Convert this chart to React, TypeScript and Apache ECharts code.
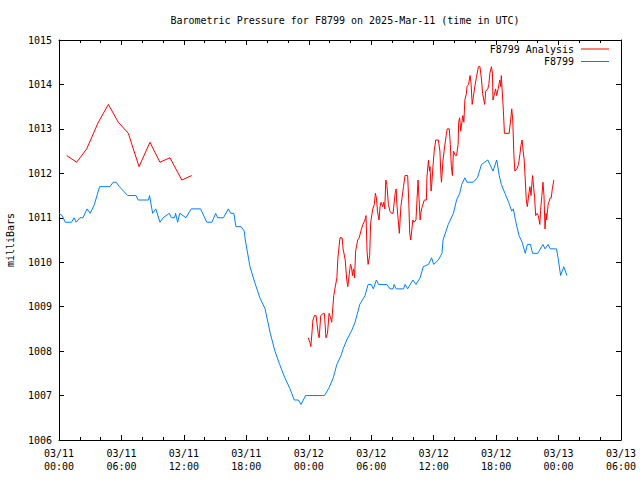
import React, { useEffect, useRef } from "react";
import * as echarts from "echarts";

const titleText = "Barometric Pressure for F8799 on 2025-Mar-11 (time in UTC)";
const yAxisName = "milliBars";
const seriesNames = ["F8799 Analysis", "F8799"];

// hours since 2025-03-11 00:00 UTC
const analysisHours: (number)[] = [
  0.74, 1.7, 2.66, 3.78, 4.74, 5.7, 6.66, 7.69, 8.74, 9.7, 10.66, 11.8, 12.75,
  18,
  23.95, 24.1, 24.2, 24.25, 24.4, 24.55, 24.7, 24.9, 25.0, 25.15, 25.4, 25.5, 25.65, 25.8, 25.95, 26.1, 26.2,
  26.4, 26.55, 26.7, 26.8, 27.0, 27.2, 27.3, 27.5, 27.65, 27.75, 27.9, 28.0, 28.1, 28.2, 28.3, 28.4,
  28.5, 28.7, 28.85, 29.0, 29.2, 29.4, 29.5, 29.6, 29.7, 29.85, 29.95, 30.15, 30.3, 30.4, 30.5, 30.6,
  30.75, 30.85, 30.95, 31.1, 31.2, 31.3, 31.4, 31.5, 31.65, 31.8, 31.95, 32.1, 32.3, 32.4, 32.45, 32.7,
  32.85, 33.1, 33.25, 33.5, 33.6, 33.7, 33.8, 34.0, 34.1, 34.3, 34.4, 34.5, 34.7, 34.8, 34.9, 35.1,
  35.3, 35.35, 35.5, 35.6, 35.65, 35.75, 35.8, 35.9, 36.05, 36.2, 36.45, 36.6, 36.7, 36.75, 36.9, 37.0,
  37.2, 37.3, 37.5, 37.6, 37.7, 37.8, 37.9, 38.1, 38.2, 38.35, 38.4, 38.5, 38.6, 38.8, 38.9, 39.0,
  39.15, 39.2, 39.35, 39.5, 39.6, 39.7, 39.8, 39.95, 40.1, 40.3, 40.45, 40.6, 40.7, 40.9, 41.0, 41.2,
  41.3, 41.4, 41.55, 41.65, 41.7, 41.85, 41.95, 42.05, 42.2, 42.35, 42.45, 42.5, 42.7, 42.8, 43.25, 43.4,
  43.5, 43.6, 43.7, 43.8, 44.0, 44.15, 44.3, 44.4, 44.5, 44.6, 44.7, 44.8, 44.9, 45.0, 45.15, 45.25,
  45.35, 45.5, 45.7, 45.8, 45.95, 46.05, 46.2, 46.3, 46.4, 46.5, 46.6, 46.7, 46.8, 46.85, 47.0, 47.2,
  47.3, 47.4, 47.55,
];
const analysisValues: (number | null)[] = [
  1012.4, 1012.25, 1012.55, 1013.15, 1013.55, 1013.15, 1012.9, 1012.15, 1012.7, 1012.25, 1012.35, 1011.85, 1011.95,
  null,
  1008.3, 1008.2, 1008.1, 1008.25, 1008.7, 1008.8, 1008.8, 1008.4, 1008.3, 1008.8, 1008.85, 1008.85, 1008.3, 1008.4, 1008.85, 1008.75, 1008.65,
  1009.25, 1009.45, 1009.65, 1010.1, 1010.55, 1010.55, 1010.3, 1010.05, 1009.6, 1009.45, 1009.75, 1009.95, 1009.9, 1009.7, 1009.85, 1009.65,
  1010.25, 1010.5, 1010.55, 1010.7, 1010.85, 1010.95, 1011.05, 1010.25, 1009.95, 1010.15, 1010.9, 1011.2, 1011.3, 1011.55, 1011.45, 1011.15,
  1010.95, 1011.25, 1011.35, 1011.25, 1011.35, 1011.2, 1011.85, 1011.75, 1011.3, 1011.15, 1011.1, 1011.1, 1011.55, 1011.65, 1011.35, 1010.65,
  1011.25, 1011.7, 1011.95, 1011.95, 1011.4, 1010.65, 1010.5, 1010.95, 1010.9, 1010.95, 1011.4, 1011.85, 1010.95, 1011.15, 1011.25, 1011.4,
  1011.4, 1011.9, 1012.3, 1012.05, 1012.15, 1011.6, 1011.7, 1012.05, 1012.5, 1012.75, 1012.75, 1012.5, 1011.95, 1011.8, 1012.3, 1012.5,
  1012.85, 1013.0, 1013.0, 1012.65, 1012.15, 1011.95, 1012.5, 1012.4, 1012.4, 1012.65, 1013.15, 1013.25, 1012.95, 1013.3, 1013.15, 1013.65,
  1013.8, 1013.95, 1014.0, 1014.2, 1014.0, 1013.55, 1013.7, 1013.95, 1014.15, 1014.4, 1014.4, 1014.1, 1013.8, 1013.55, 1013.85, 1013.9,
  1014.0, 1014.25, 1014.4, 1014.25, 1013.65, 1013.8, 1013.9, 1013.75, 1013.9, 1014.1, 1013.95, 1014.2, 1013.4, 1012.9, 1012.9, 1013.2,
  1013.45, 1013.2, 1012.45, 1012.05, 1012.1, 1012.2, 1012.45, 1012.65, 1012.75, 1012.5, 1012.3, 1011.85, 1011.4, 1011.25, 1011.55, 1011.7,
  1011.5, 1011.95, 1011.45, 1011.05, 1011.1, 1011.05, 1010.85, 1011.25, 1011.5, 1011.8, 1011.5, 1010.75, 1011.1, 1010.95, 1011.3, 1011.45,
  1011.45, 1011.65, 1011.85,
];

const stationHours: number[] = [
  0, 0.3, 0.6, 1.2, 1.45, 1.65, 2.0, 2.3, 2.7, 3.0, 3.4, 3.9, 4.9, 5.2, 5.5, 5.8, 6.0, 6.2, 6.6, 7.4,
  7.6, 8.6, 8.7, 9.0, 9.3, 9.7, 10.0, 10.6, 10.8, 11.1, 11.2, 11.4, 11.6, 12.2, 12.7, 13.6, 14.2, 14.7, 15.05, 15.25,
  15.8, 16.27, 16.5, 16.8, 17.0, 17.5, 17.8, 17.9, 18.35, 18.8, 19.3, 19.8, 20.3, 20.75, 21.2, 21.7, 22.2, 22.6, 23.0, 23.25,
  23.7, 25.5, 25.9, 26.35, 26.7, 27.1, 27.3, 27.65, 28.1, 28.45, 28.9, 29.4, 29.7, 30.0, 30.2, 30.5, 30.7, 31.5, 31.8, 32.1,
  32.2, 32.4, 33.1, 33.25, 33.5, 34.0, 34.3, 34.7, 35.0, 35.5, 35.8, 36.0, 36.45, 36.8, 36.9, 37.4, 37.9, 38.2, 38.5, 38.7,
  39.0, 39.2, 39.8, 40.2, 40.6, 40.9, 41.2, 41.4, 41.7, 42.06, 42.3, 42.5, 42.85, 43.2, 43.5, 43.65, 43.9, 44.2, 44.5, 44.8,
  45.0, 45.3, 45.5, 46.0, 46.5, 46.7, 47.0, 47.2, 47.8, 47.95, 48.2, 48.5, 48.8,
];
const stationValues: number[] = [
  1011.1, 1011.05, 1010.9, 1010.9, 1011.0, 1010.9, 1011.0, 1011.0, 1011.2, 1011.1, 1011.3, 1011.7, 1011.7, 1011.8, 1011.8, 1011.7, 1011.65, 1011.6, 1011.5, 1011.5,
  1011.4, 1011.4, 1011.5, 1011.1, 1011.2, 1010.9, 1011.0, 1011.1, 1011.0, 1011.0, 1011.1, 1010.9, 1011.1, 1011.0, 1011.2, 1011.2, 1010.9, 1010.9, 1011.1, 1011.0,
  1011.0, 1011.2, 1011.1, 1011.1, 1010.8, 1010.8, 1010.7, 1010.5, 1009.9, 1009.55, 1009.2, 1008.95, 1008.4, 1008.0, 1007.7, 1007.4, 1007.15, 1006.9, 1006.9, 1006.8,
  1007.0, 1007.0, 1007.15, 1007.4, 1007.7, 1007.9, 1008.05, 1008.25, 1008.45, 1008.65, 1009.05, 1009.25, 1009.5, 1009.5, 1009.4, 1009.6, 1009.5, 1009.5, 1009.4, 1009.4,
  1009.5, 1009.4, 1009.4, 1009.5, 1009.4, 1009.6, 1009.5, 1009.65, 1009.9, 1009.95, 1010.1, 1009.95, 1010.05, 1010.2, 1010.5, 1010.85, 1011.1, 1011.4, 1011.55, 1011.75,
  1011.9, 1011.8, 1011.8, 1011.9, 1012.2, 1012.25, 1012.3, 1012.2, 1012.05, 1012.3, 1011.95, 1011.75, 1011.55, 1011.35, 1011.15, 1011.2, 1010.9, 1010.6, 1010.45, 1010.2,
  1010.4, 1010.4, 1010.2, 1010.2, 1010.4, 1010.3, 1010.4, 1010.3, 1010.3, 1010.1, 1009.7, 1009.9, 1009.7,
];

const xMin = 0;
const xMax = 54;
const xStep = 6;
const yMin = 1006;
const yMax = 1015;
const yStep = 1;

const FONT = "DejaVu Sans Mono";
// legend sample: a horizontal bar with a small blank gap on its left
const LEGEND_ICON = "path://M0,0L0.01,0L0,0.01Z M2,5.5L30,5.5L30,6.5L2,6.5Z M0,12L0.01,12L0,11.99Z";

function fmtTime(h: number): string {
  const day = 11 + Math.floor(h / 24);
  const hh = Math.round(h % 24);
  const pad = (n: number) => (n < 10 ? "0" + n : "" + n);
  return "03/" + pad(day) + "\n" + pad(hh) + ":00";
}

export default function App() {
  const ref = useRef<HTMLDivElement>(null);
  useEffect(() => {
    if (!ref.current) return;
    const chart = echarts.init(ref.current, undefined, { renderer: "svg" });
    const pair = (xs: number[], ys: (number | null)[]) =>
      xs.map((x, i) => [x, ys[i] === null ? "-" : ys[i]]);
    const tickCommon = { show: true, inside: true, length: 5, lineStyle: { color: "#000", width: 1 } };
    const minorCommon = { show: true, splitNumber: 3, length: 3, lineStyle: { color: "#000", width: 1 } };
    chart.setOption({
      animation: false,
      backgroundColor: "#fff",
      textStyle: { fontFamily: FONT, color: "#000" },
      title: {
        text: titleText,
        left: 340,
        textAlign: "center",
        top: 10,
        textStyle: { fontFamily: FONT, fontSize: 10, fontWeight: "normal", color: "#000" },
      },
      legend: {
        orient: "vertical",
        align: "right",
        right: 26,
        top: 38,
        itemWidth: 30,
        itemHeight: 12,
        itemGap: 0.5,
        icon: LEGEND_ICON,
        itemStyle: { borderWidth: 0 },
        textStyle: { fontFamily: FONT, fontSize: 10, color: "#000" },
        data: seriesNames,
      },
      grid: {
        left: 59,
        right: 19,
        top: 40,
        bottom: 40,
        containLabel: false,
        outerBoundsMode: "none",
      },
      xAxis: [
        {
          type: "value",
          min: xMin,
          max: xMax,
          interval: xStep,
          position: "bottom",
          axisLine: { show: true, onZero: false, lineStyle: { color: "#000", width: 1 } },
          axisTick: tickCommon,
          minorTick: minorCommon,
          splitLine: { show: false },
          axisLabel: {
            fontFamily: FONT,
            fontSize: 10,
            color: "#000",
            lineHeight: 13,
            margin: 7,
            formatter: (v: number) => fmtTime(v),
          },
        },
        {
          type: "value",
          min: xMin,
          max: xMax,
          interval: xStep,
          position: "top",
          axisLine: { show: true, onZero: false, lineStyle: { color: "#000", width: 1 } },
          axisTick: tickCommon,
          minorTick: minorCommon,
          splitLine: { show: false },
          axisLabel: { show: false },
        },
      ],
      yAxis: [
        {
          type: "value",
          min: yMin,
          max: yMax,
          interval: yStep,
          position: "left",
          name: yAxisName,
          nameLocation: "middle",
          nameGap: 44,
          nameTextStyle: { fontFamily: FONT, fontSize: 10, color: "#000" },
          axisLine: { show: true, onZero: false, lineStyle: { color: "#000", width: 1 } },
          axisTick: tickCommon,
          splitLine: { show: false },
          axisLabel: {
            fontFamily: FONT,
            fontSize: 10,
            color: "#000",
            margin: 7,
            formatter: (v: number) => String(v),
          },
        },
        {
          type: "value",
          min: yMin,
          max: yMax,
          interval: yStep,
          position: "right",
          axisLine: { show: true, onZero: false, lineStyle: { color: "#000", width: 1 } },
          axisTick: tickCommon,
          splitLine: { show: false },
          axisLabel: { show: false },
        },
      ],
      series: [
        {
          name: seriesNames[0],
          type: "line",
          symbol: "none",
          connectNulls: false,
          xAxisIndex: 0,
          yAxisIndex: 0,
          lineStyle: { color: "#ff0000", width: 1 },
          itemStyle: { color: "#ff0000" },
          data: pair(analysisHours, analysisValues),
        },
        {
          name: seriesNames[1],
          type: "line",
          symbol: "none",
          xAxisIndex: 0,
          yAxisIndex: 0,
          lineStyle: { color: "#0080ff", width: 1 },
          itemStyle: { color: "#0080ff" },
          data: pair(stationHours, stationValues),
        },
      ],
    });
    return () => chart.dispose();
  }, []);
  return (
    <div
      ref={ref}
      style={{ position: "fixed", left: 0, top: 0, width: 640, height: 480, background: "#fff" }}
    />
  );
}
